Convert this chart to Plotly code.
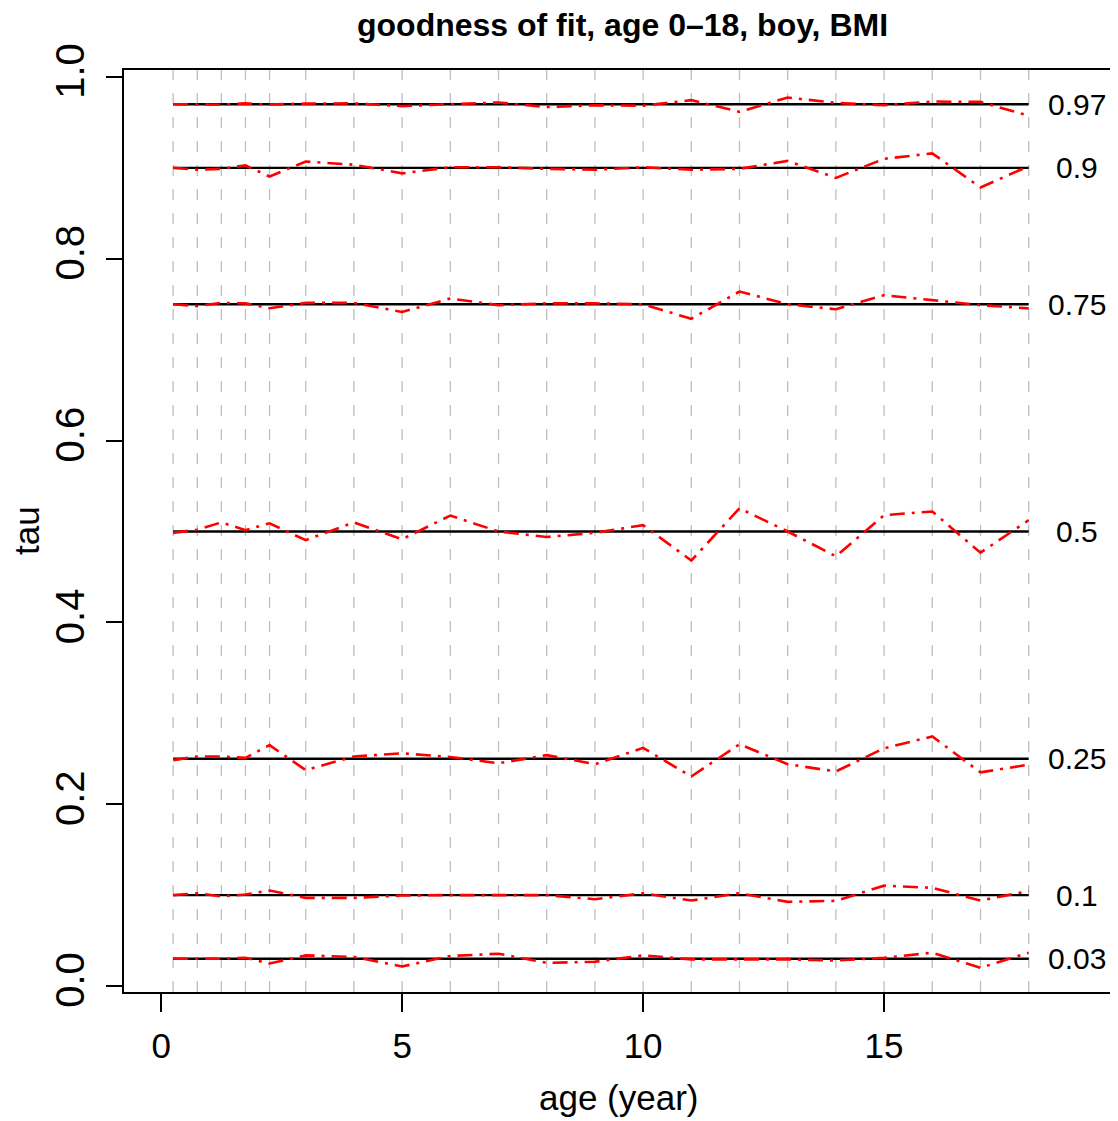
import plotly.graph_objects as go

ages = [0.25, 0.75, 1.25, 1.75, 2.25, 3, 4, 5, 6, 7, 8, 9, 10, 11, 12, 13, 14, 15, 16, 17, 18]
tau_levels = [0.03, 0.1, 0.25, 0.5, 0.75, 0.9, 0.97]
tau_labels = ["0.03", "0.1", "0.25", "0.5", "0.75", "0.9", "0.97"]

obs_003 = [0.030, 0.030, 0.030, 0.031, 0.0248, 0.0337, 0.032, 0.0215, 0.033, 0.0355, 0.0255,
           0.0267, 0.0337, 0.0293, 0.0293, 0.0293, 0.028, 0.031, 0.0367, 0.020, 0.0367]
obs_010 = [0.100, 0.102, 0.0985, 0.1007, 0.105, 0.097, 0.097, 0.0995, 0.100, 0.100, 0.100,
           0.0955, 0.102, 0.094, 0.102, 0.0926, 0.0937, 0.1104, 0.108, 0.094, 0.1045]
obs_025 = [0.2485, 0.2525, 0.2525, 0.251, 0.265, 0.2375, 0.2525, 0.256, 0.252, 0.245, 0.254,
           0.244, 0.262, 0.2305, 0.266, 0.244, 0.236, 0.2615, 0.2745, 0.235, 0.2435]
obs_050 = [0.4985, 0.502, 0.510, 0.5015, 0.509, 0.4905, 0.510, 0.4915, 0.5175, 0.500, 0.494,
           0.4985, 0.507, 0.468, 0.5255, 0.500, 0.4727, 0.518, 0.522, 0.4767, 0.5125]
obs_075 = [0.750, 0.748, 0.7515, 0.751, 0.7456, 0.7515, 0.7515, 0.7415, 0.7563, 0.749, 0.751,
           0.751, 0.750, 0.734, 0.764, 0.750, 0.7445, 0.760, 0.7545, 0.749, 0.7455]
obs_090 = [0.900, 0.898, 0.899, 0.9027, 0.8905, 0.907, 0.9035, 0.894, 0.9007, 0.9007, 0.899,
           0.898, 0.9007, 0.898, 0.899, 0.9077, 0.889, 0.910, 0.916, 0.8785, 0.902]
obs_097 = [0.970, 0.970, 0.9695, 0.971, 0.9697, 0.9707, 0.971, 0.968, 0.970, 0.972, 0.967,
           0.9688, 0.9685, 0.9745, 0.9617, 0.9774, 0.9715, 0.969, 0.973, 0.9726, 0.9574]
observed = [obs_003, obs_010, obs_025, obs_050, obs_075, obs_090, obs_097]

x_ticks = [0, 5, 10, 15]
y_ticks = [0.0, 0.2, 0.4, 0.6, 0.8, 1.0]
y_tick_text = ["0.0", "0.2", "0.4", "0.6", "0.8", "1.0"]
label_x = 19

FONT = "Liberation Sans, Arial, Helvetica, sans-serif"
OFF = 8  # default page body margin
W, H = 1118 - OFF, 1121 - OFF
L, R, T, B = 124 - OFF, 4, 70 - OFF, 129
PW, PH = W - L - R, H - T - B

fig = go.Figure()

# vertical gray dashed lines at each age
shapes = []
for a in ages:
    shapes.append(dict(type="line", xref="x", yref="y domain", x0=a, x1=a, y0=0, y1=1,
                       line=dict(color="#BEBEBE", width=1.3, dash="11px,13px"), layer="below"))

# black reference lines
for t in tau_levels:
    fig.add_trace(go.Scatter(x=[ages[0], ages[-1]], y=[t, t], mode="lines",
                             line=dict(color="black", width=2.4), showlegend=False, hoverinfo="skip"))

# red observed lines
for obs in observed:
    fig.add_trace(go.Scatter(x=ages, y=obs, mode="lines",
                             line=dict(color="#FF0000", width=2.6, dash="15px,7px,3px,7px"),
                             showlegend=False))

annotations = []
for t, lab in zip(tau_levels, tau_labels):
    annotations.append(dict(x=label_x, y=t, xref="x", yref="y", text=lab, showarrow=False,
                            xanchor="center", yanchor="middle",
                            font=dict(family=FONT, size=30, color="black")))

def px_to_paper_y(p):
    return (H - B - (p - OFF)) / PH

def px_to_paper_x(p):
    return ((p - OFF) - L) / PW

annotations.append(dict(x=px_to_paper_x(622), y=px_to_paper_y(25), xref="paper", yref="paper",
                        text="<b>goodness of fit, age 0\u201318, boy, BMI</b>", showarrow=False,
                        xanchor="center", yanchor="middle",
                        font=dict(family=FONT, size=32, color="black")))
annotations.append(dict(x=px_to_paper_x(619), y=px_to_paper_y(1097), xref="paper", yref="paper",
                        text="age (year)", showarrow=False, xanchor="center", yanchor="middle",
                        font=dict(family=FONT, size=35, color="black")))
annotations.append(dict(x=px_to_paper_x(26), y=px_to_paper_y(531), xref="paper", yref="paper",
                        text="tau", showarrow=False, xanchor="center", yanchor="middle",
                        textangle=-90, font=dict(family=FONT, size=35, color="black")))

fig.update_layout(
    width=W, height=H,
    margin=dict(l=L, r=R, t=T, b=B, pad=0, autoexpand=False),
    paper_bgcolor="white", plot_bgcolor="white",
    shapes=shapes, annotations=annotations,
    showlegend=False,
    font=dict(family=FONT, color="black"),
)
fig.update_xaxes(range=[-0.77, 19.77], tickvals=x_ticks, ticktext=[str(v) for v in x_ticks],
                 showgrid=False, zeroline=False, showline=True, mirror=True, automargin=False,
                 linecolor="black", linewidth=2, ticks="outside", ticklen=18, tickwidth=1.5,
                 tickcolor="black", tickfont=dict(family=FONT, size=35, color="black"),
                 ticklabelstandoff=4)
fig.update_yaxes(range=[-0.0066, 1.0077], tickvals=y_ticks, ticktext=y_tick_text,
                 showgrid=False, zeroline=False, showline=True, mirror=True, automargin=False,
                 linecolor="black", linewidth=2, ticks="outside", ticklen=16, tickwidth=1.5,
                 tickcolor="black", tickangle=-90, tickfont=dict(family=FONT, size=40, color="black"),
                 ticklabelstandoff=6)

fig.write_html("out.html")
